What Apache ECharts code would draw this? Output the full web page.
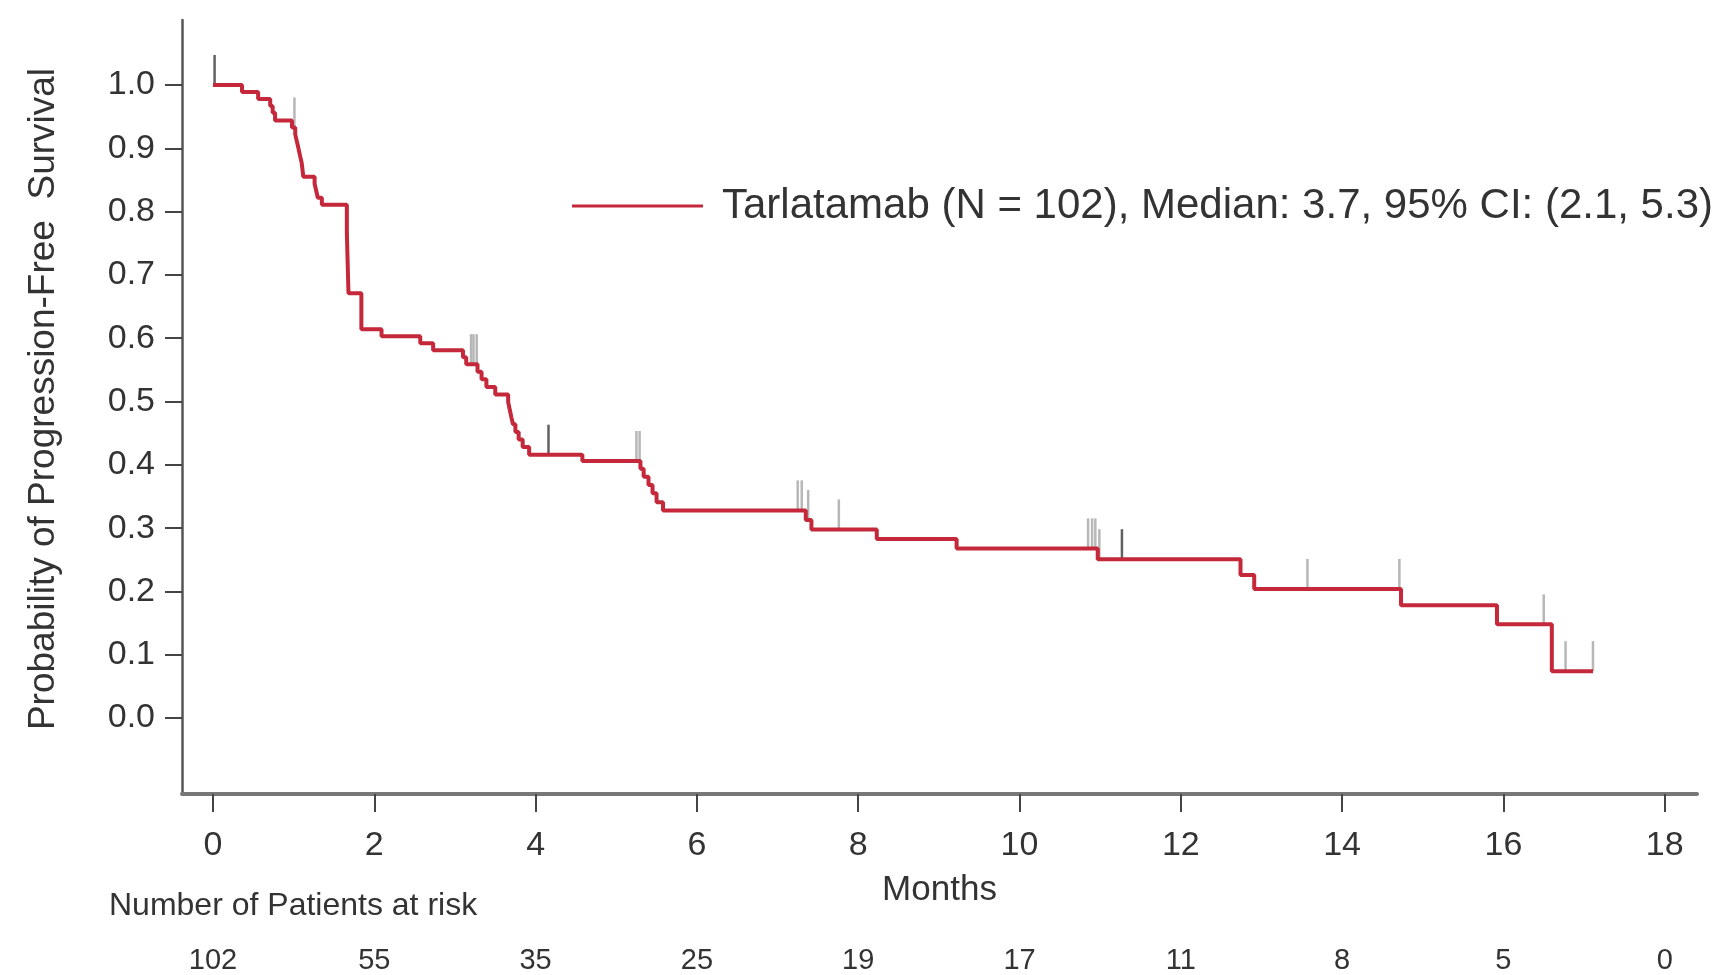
<!DOCTYPE html>
<html>
<head>
<meta charset="utf-8">
<title>Tarlatamab PFS</title>
<script src="https://cdn.jsdelivr.net/npm/echarts@6/dist/echarts.min.js"></script>
<style>
	html, body { margin: 0; padding: 0; background: #fff; }
	#main { width: 1714px; height: 975px; }
</style>
</head>
<body>
<div id="main"></div>
<script>
/*数据: Kaplan-Meier 曲线 (月, 生存概率)*/
var kmTime = [0, 0.36, 0.56, 0.71, 0.74, 0.77, 0.98, 1.02, 1.04, 1.06, 1.08, 1.10, 1.11, 1.12,
	1.26, 1.28, 1.30, 1.35, 1.66, 1.68, 1.84, 2.09, 2.57, 2.73, 3.10, 3.14, 3.28, 3.33, 3.39, 3.50,
	3.66, 3.68, 3.70, 3.72, 3.75, 3.79, 3.84, 3.92, 4.58, 5.30, 5.34, 5.40, 5.45, 5.50, 5.58,
	7.35, 7.42, 8.23, 9.22, 10.97, 12.74, 12.91, 14.73, 15.92, 16.60, 17.11];
var kmSurv = [1.000, 0.989, 0.978, 0.967, 0.956, 0.944, 0.933, 0.922, 0.911, 0.900, 0.888, 0.877, 0.866, 0.855,
	0.844, 0.833, 0.822, 0.811, 0.766, 0.671, 0.614, 0.603, 0.592, 0.581, 0.570, 0.559, 0.547, 0.535, 0.523, 0.511,
	0.499, 0.487, 0.475, 0.464, 0.452, 0.440, 0.428, 0.416, 0.406, 0.394, 0.381, 0.368, 0.355, 0.341, 0.328,
	0.313, 0.298, 0.283, 0.268, 0.251, 0.226, 0.204, 0.178, 0.148, 0.074, 0.074];

/*删失时间*/
var censorLight = [1.01, 3.20, 3.23, 3.27, 5.25, 5.29, 7.25, 7.30, 7.38, 7.76,
	10.85, 10.90, 10.94, 10.99, 13.57, 14.71, 16.50, 16.77, 17.11];
var censorDark = [0.02, 4.16, 11.27];

/*坐标轴刻度*/
var monthTicks = [0, 2, 4, 6, 8, 10, 12, 14, 16, 18];
var probTicks = [0, 0.1, 0.2, 0.3, 0.4, 0.5, 0.6, 0.7, 0.8, 0.9, 1.0];
var atRisk = [102, 55, 35, 25, 19, 17, 11, 8, 5, 0];

var seriesName = 'Tarlatamab (N = 102), Median: 3.7, 95% CI: (2.1, 5.3)';
var FONT = '"Liberation Sans", Arial, Helvetica, sans-serif';
var TEXT = '#333';
var RED = '#c4283a';

/*曲线在 t 处的值*/
var survAt = function(t){
	var s = kmSurv[0];
	for(var i=0;i<kmTime.length;i++){
		if(kmTime[i] <= t){ s = kmSurv[i]; }
	}
	return s;
};
var toPoints = function(times){
	return times.map(function(t){ return [t, survAt(t)]; });
};

var curve = kmTime.map(function(t, i){ return [t, kmSurv[i]]; });

var myChart = echarts.init(document.getElementById('main'), null, {renderer: 'canvas'});

var censorSeries = function(times, color){
	return {
		type: 'scatter',
		silent: true,
		symbol: 'rect',
		symbolSize: [2.5, 30],
		symbolOffset: [0, -15],
		itemStyle: { color: color },
		data: toPoints(times),
		z: 2
	};
};

var option = {
	animation: false,
	backgroundColor: '#fff',
	textStyle: { fontFamily: FONT },
	grid: { left: 182, right: 17, top: 20, bottom: 181 },
	legend: {
		data: [{ name: seriesName, icon: 'rect' }],
		left: 572,
		top: 185,
		padding: 0,
		itemWidth: 131,
		itemHeight: 3,
		textStyle: { fontSize: 42, color: TEXT, fontFamily: FONT, padding: [0, 0, 0, 14] }
	},
	xAxis: [{
		type: 'value',
		min: -0.384,
		max: 18.4,
		name: 'Months',
		nameLocation: 'middle',
		nameGap: 79,
		nameTextStyle: { fontSize: 35, color: TEXT, fontFamily: FONT },
		splitLine: { show: false },
		axisLine: { onZero: false, lineStyle: { color: '#777', width: 4 } },
		axisTick: { customValues: monthTicks, length: 18, lineStyle: { color: '#444', width: 2 } },
		axisLabel: { customValues: monthTicks, margin: 35, fontSize: 34, color: TEXT, fontFamily: FONT }
	}, {
		/*风险人数行*/
		type: 'value',
		position: 'bottom',
		offset: 144,
		min: -0.384,
		max: 18.4,
		splitLine: { show: false },
		axisLine: { show: false },
		axisTick: { show: false },
		axisLabel: {
			customValues: monthTicks,
			margin: 8,
			fontSize: 29,
			color: TEXT,
			fontFamily: FONT,
			formatter: function(v){ return String(atRisk[monthTicks.indexOf(v)]); }
		}
	}],
	yAxis: {
		type: 'value',
		min: -0.12,
		max: 1.1027,
		name: 'Probability of Progression-Free  Survival',
		nameLocation: 'middle',
		nameRotate: 90,
		nameGap: 120,
		nameTextStyle: { fontSize: 37, color: TEXT, fontFamily: FONT, padding: [0, 0, 0, 16] },
		splitLine: { show: false },
		axisLine: { onZero: false, lineStyle: { color: '#555', width: 2.5 } },
		axisTick: { customValues: probTicks, length: 17, lineStyle: { color: '#444', width: 2 } },
		axisLabel: {
			customValues: probTicks,
			margin: 27,
			fontSize: 34,
			color: TEXT,
			fontFamily: FONT,
			formatter: function(v){ return v.toFixed(1); }
		}
	},
	graphic: [{
		type: 'text',
		left: 109,
		top: 890,
		style: { text: 'Number of Patients at risk', fontSize: 32, fill: TEXT, fontFamily: FONT }
	}],
	series: [
		censorSeries(censorLight, '#a5a5a5'),
		censorSeries(censorDark, '#3a3a3a'),
		{
			name: seriesName,
			type: 'line',
			step: 'end',
			symbol: 'none',
			itemStyle: { color: RED },
			lineStyle: { color: RED, width: 4 },
			data: curve,
			z: 3
		}
	]
};
myChart.setOption(option);
</script>
</body>
</html>
